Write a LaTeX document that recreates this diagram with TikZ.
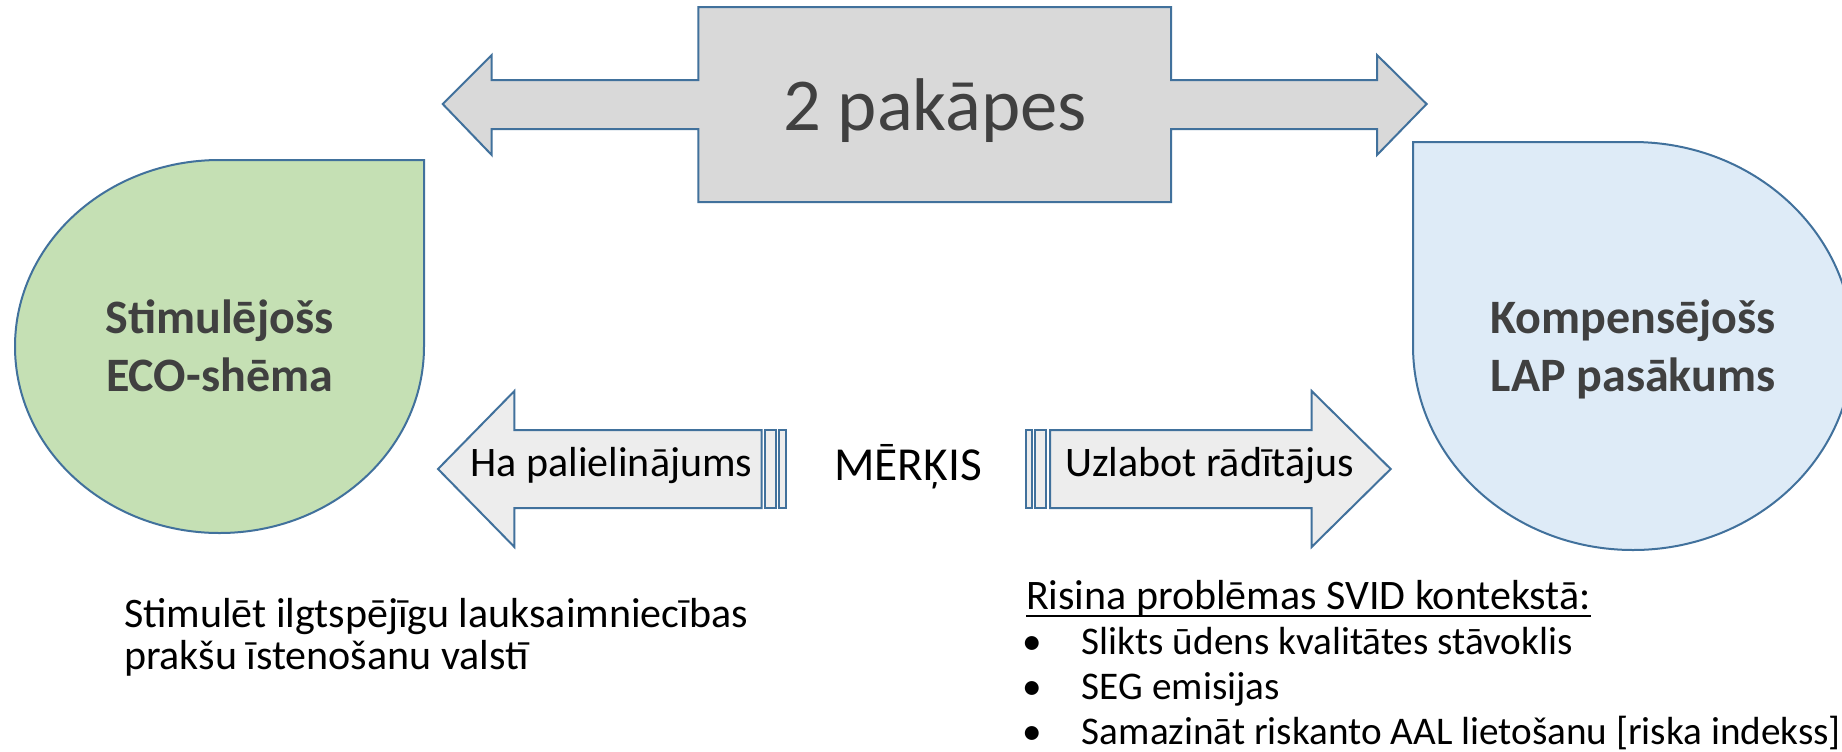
\documentclass[tikz,border=0pt]{standalone}
\usepackage{fontspec}
\setmainfont{Carlito}
\definecolor{edgeblue}{HTML}{41719C}
\definecolor{topgray}{HTML}{D9D9D9}
\definecolor{midgray}{HTML}{EDEDED}
\definecolor{ecogreen}{HTML}{C5E0B4}
\definecolor{lapblue}{HTML}{DEEBF7}
\definecolor{darktext}{HTML}{404040}
\newsavebox{\ulinebox}
\newcommand{\offiul}[1]{\sbox{\ulinebox}{#1}\rlap{\rule[-6pt]{\wd\ulinebox}{1.4pt}}\usebox{\ulinebox}}
\newcommand{\bulletitem}{\makebox[42pt][l]{\kern-2.6pt •}}
\tikzset{
  shapeline/.style={draw=edgeblue, line width=1.5pt, line join=miter},
  txt/.style={inner sep=0pt, outer sep=0pt},
  titletxt/.style={txt, text=darktext, font=\fontsize{36}{44}\selectfont\bfseries, anchor=base},
  arrowtxt/.style={txt, text=black, font=\fontsize{31.5}{36}\selectfont, anchor=base},
  bodytxt/.style={txt, text=black, anchor=base west},
}
\begin{document}
\begin{tikzpicture}[x=0.75pt, y=-0.75pt]
\useasboundingbox (0,0) rectangle (1842,751);
\clip (0,0) rectangle (1842,751);
\fill[white] (0,0) rectangle (1842,751);

% top double arrow with central box
\path[shapeline, fill=topgray]
  (442.7,104) -- (491.7,55) -- (491.7,80) -- (698.3,80) -- (698.3,7)
  -- (1171,7) -- (1171,80) -- (1377,80) -- (1377,55) -- (1426.6,104)
  -- (1377,155) -- (1377,129) -- (1171,129) -- (1171,202)
  -- (698.3,202) -- (698.3,129) -- (491.7,129) -- (491.7,155) -- cycle;
\node[txt, text=darktext, font=\fontsize{56}{64}\selectfont, anchor=base] (stages) at (935,130) {2 pakāpes};

% green drop
\path[shapeline, fill=ecogreen]
  (219.5,160) -- (424,160) -- (424,346.5)
  .. controls (424,449.5) and (332.4,533) .. (219.5,533)
  .. controls (106.6,533) and (15,449.5) .. (15,346.5)
  .. controls (15,243.5) and (106.6,160) .. (219.5,160) -- cycle;
\node[titletxt] (eco) at (219.5,333) {\begin{tabular}[t]{@{}c@{}}Stimulējošs\\ECO-shēma\end{tabular}};

% blue drop
\path[shapeline, fill=lapblue]
  (1413,142) -- (1633,142)
  .. controls (1754.5,142) and (1853,233.3) .. (1853,346)
  .. controls (1853,458.7) and (1754.5,550) .. (1633,550)
  .. controls (1511.5,550) and (1413,458.7) .. (1413,346) -- cycle;
\node[titletxt] (lap) at (1633,333) {\begin{tabular}[t]{@{}c@{}}Kompensējošs\\LAP pasākums\end{tabular}};

% left striped arrow
\path[shapeline, fill=midgray]
  (438,469) -- (514.4,391) -- (514.4,430) -- (761.7,430) -- (761.7,508)
  -- (514.4,508) -- (514.4,547) -- cycle;
\path[shapeline, fill=midgray] (765,430) rectangle (775.7,508);
\path[shapeline, fill=midgray] (779.3,430) rectangle (785.7,508);
\node[arrowtxt] (incr) at (611.5,476) {Ha palielinājums};

% right striped arrow
\path[shapeline, fill=midgray] (1025.7,430) rectangle (1031.7,508);
\path[shapeline, fill=midgray] (1035,430) rectangle (1046,508);
\path[shapeline, fill=midgray]
  (1050,430) -- (1311.6,430) -- (1311.6,391) -- (1390.7,469)
  -- (1311.6,547) -- (1311.6,508) -- (1050,508) -- cycle;
\node[arrowtxt] (impr) at (1209.5,476) {Uzlabot rādītājus};

\node[txt, text=black, font=\fontsize{35.5}{40}\selectfont, anchor=base] (goal) at (908,480) {MĒRĶIS};

% bottom texts
\node[bodytxt, font=\fontsize{31.5}{32}\selectfont] (stim) at (124,627)
  {\vtop{\hbox{Stimulēt ilgtspējīgu lauksaimniecības}\hbox{prakšu īstenošanu valstī}}};
\node[bodytxt, font=\fontsize{31.5}{33.75}\selectfont] (svidhead) at (1026,609)
  {\offiul{Risina problēmas SVID kontekstā:}};
\node[bodytxt, font=\fontsize{29.4}{33.75}\selectfont] (svid) at (1026,654)
  {\vtop{\hbox{\bulletitem Slikts ūdens kvalitātes stāvoklis}
  \hbox{\bulletitem SEG emisijas}
  \hbox{\bulletitem Samazināt riskanto AAL lietošanu [riska indekss]}}};
\end{tikzpicture}
\end{document}
